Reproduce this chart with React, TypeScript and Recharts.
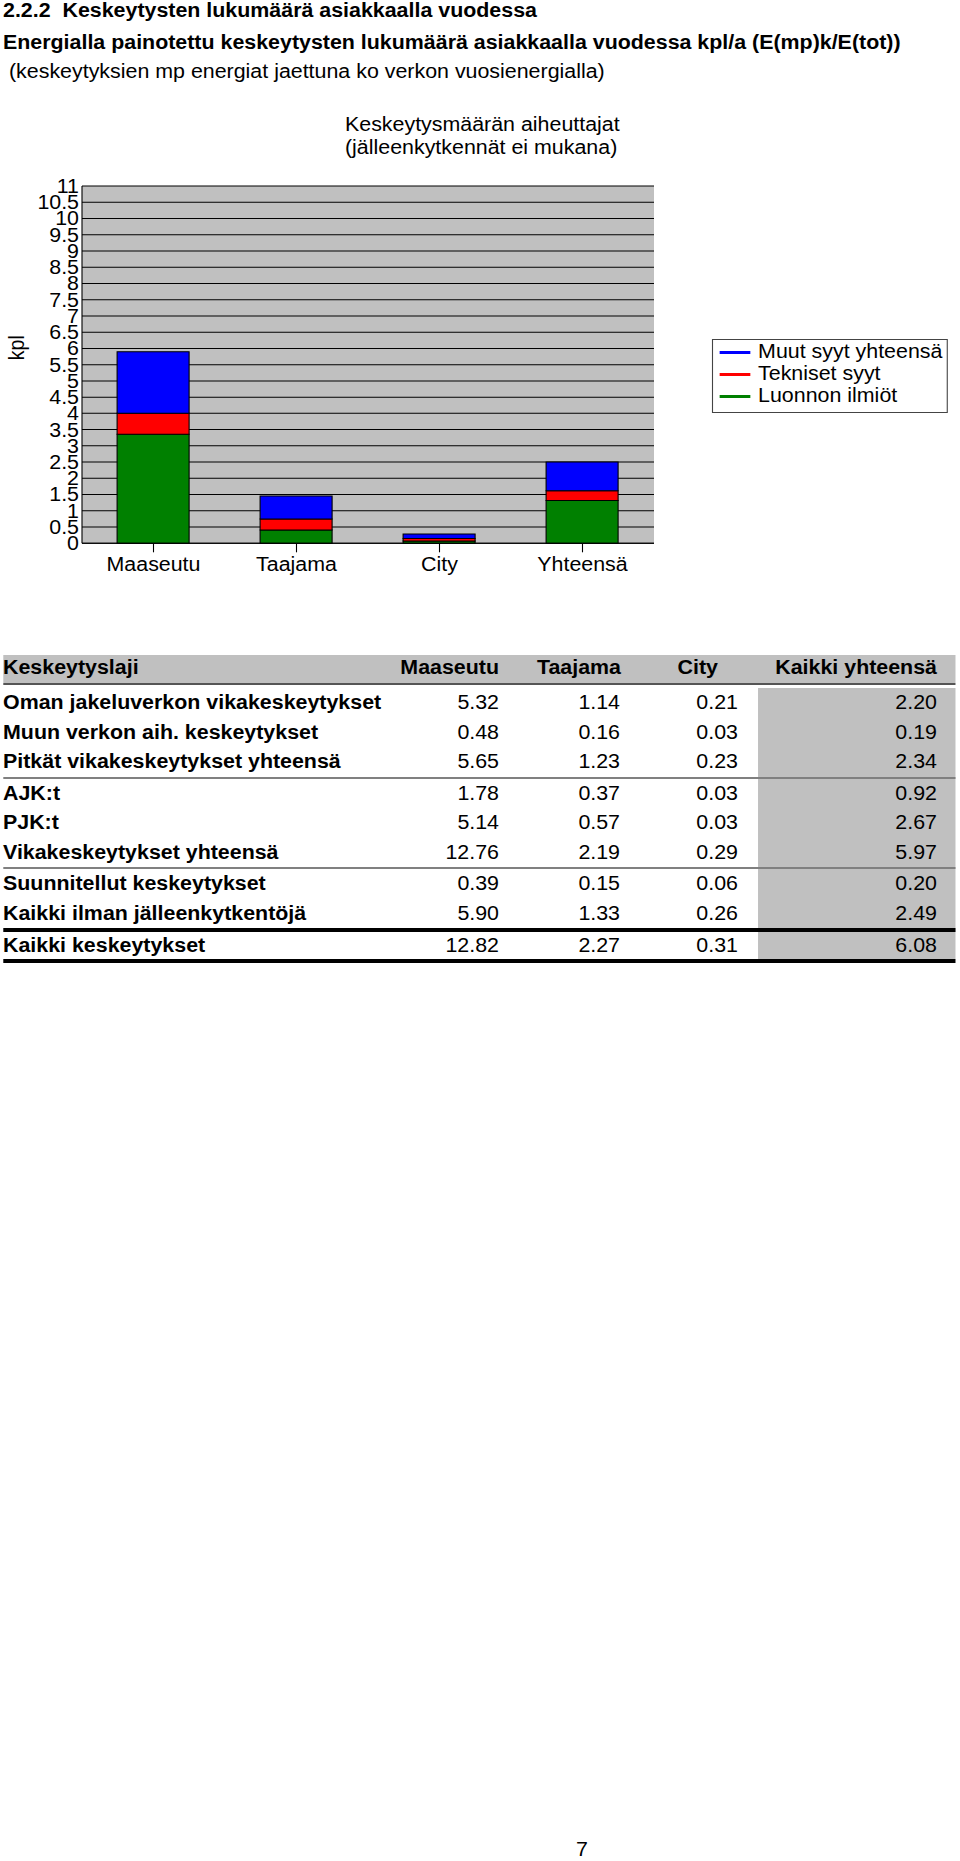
import React from "react";
import { BarChart, Bar, XAxis, YAxis, CartesianGrid, Legend } from "recharts";

// the scanned page is a bit stretched sideways, so everything sits in a scaleX wrapper
const S = 1.097;
const FS = 19.5;
const CAP = 0.716 * FS;
const FONT = '"Liberation Sans", Arial, Helvetica, sans-serif';
const ix = (x: number) => x / S;

// chart data
const categories = ["Maaseutu", "Taajama", "City", "Yhteensä"];
const luonnonIlmiot = [3.36, 0.41, 0.07, 1.32];
const teknisetSyyt = [0.64, 0.34, 0.08, 0.3];
const muutSyyt = [1.9, 0.71, 0.14, 0.88];
const yTicks = [0, 0.5, 1, 1.5, 2, 2.5, 3, 3.5, 4, 4.5, 5, 5.5, 6, 6.5, 7, 7.5, 8, 8.5, 9, 9.5, 10, 10.5, 11];

const seriesNames = ["Muut syyt yhteensä", "Tekniset syyt", "Luonnon ilmiöt"];
const seriesColors = ["#0000ff", "#ff0000", "#008000"];

// table data
const tableHeaders = ["Keskeytyslaji", "Maaseutu", "Taajama", "City", "Kaikki yhteensä"];
const rowLabels = [
  "Oman jakeluverkon vikakeskeytykset",
  "Muun verkon aih. keskeytykset",
  "Pitkät vikakeskeytykset yhteensä",
  "AJK:t",
  "PJK:t",
  "Vikakeskeytykset yhteensä",
  "Suunnitellut keskeytykset",
  "Kaikki ilman jälleenkytkentöjä",
  "Kaikki keskeytykset",
];
const maaseutuValues = ["5.32", "0.48", "5.65", "1.78", "5.14", "12.76", "0.39", "5.90", "12.82"];
const taajamaValues = ["1.14", "0.16", "1.23", "0.37", "0.57", "2.19", "0.15", "1.33", "2.27"];
const cityValues = ["0.21", "0.03", "0.23", "0.03", "0.03", "0.29", "0.06", "0.26", "0.31"];
const kaikkiValues = ["2.20", "0.19", "2.34", "0.92", "2.67", "5.97", "0.20", "2.49", "6.08"];

const chartData = categories.map((name, i) => ({
  name,
  luonnon: luonnonIlmiot[i],
  tekniset: teknisetSyyt[i],
  muut: muutSyyt[i],
}));

type TxtProps = {
  x: number;
  base: number;
  anchor?: "start" | "end" | "middle";
  bold?: boolean;
  size?: number;
  children: React.ReactNode;
};

// x is in page pixels, base is the baseline y
function Txt({ x, base, anchor = "start", bold = false, size = FS, children }: TxtProps) {
  const w = 700;
  const left = anchor === "start" ? ix(x) : anchor === "end" ? ix(x) - w : ix(x) - w / 2;
  return (
    <div
      style={{
        position: "absolute",
        left,
        top: base - 0.8465 * size,
        width: w,
        fontSize: size,
        lineHeight: size + "px",
        fontWeight: bold ? 700 : 400,
        textAlign: anchor === "start" ? "left" : anchor === "end" ? "right" : "center",
        whiteSpace: "nowrap",
      }}
    >
      {children}
    </div>
  );
}

function Box({ x1, x2, y1, y2, color }: { x1: number; x2: number; y1: number; y2: number; color: string }) {
  return <div style={{ position: "absolute", left: ix(x1), width: ix(x2 - x1), top: y1, height: y2 - y1, background: color }} />;
}

const CHART_TOP = 100;
const PLOT = { left: 82, right: 654, top: 186, bottom: 543.3 };

function LegendBox() {
  const rows = [352, 374, 396];
  return (
    <div style={{ position: "relative", width: "100%", height: "100%" }}>
      {seriesNames.map((n, i) => (
        <React.Fragment key={n}>
          <div
            style={{
              position: "absolute",
              left: ix(6),
              width: ix(31),
              top: rows[i] - 339 - 2.5,
              height: 3,
              background: seriesColors[i],
            }}
          />
          <div
            style={{
              position: "absolute",
              left: ix(45),
              top: rows[i] - 339 + CAP / 2 - 0.8465 * FS - 1,
              fontSize: FS,
              lineHeight: FS + "px",
              whiteSpace: "nowrap",
              color: "#000",
            }}
          >
            {n}
          </div>
        </React.Fragment>
      ))}
    </div>
  );
}

// table layout
const T_LEFT = 3;
const T_RIGHT = 955;
const colRight = [499, 620, 738, 937];
const headRight = [499, 621, 718, 937];
const rowHeights = [29.5, 29.5, 29.5, 29.5, 29.5, 29.5, 29.5, 29.5, 27];
const rowLines: Record<number, { h: number; color: string }> = {
  2: { h: 2, color: "#808080" },
  5: { h: 2, color: "#808080" },
  7: { h: 4, color: "#000" },
  8: { h: 4, color: "#000" },
};

function Table() {
  const els: React.ReactNode[] = [];
  // header
  els.push(<Box key="hb" x1={T_LEFT} x2={T_RIGHT} y1={655} y2={683} color="#c0c0c0" />);
  els.push(<Box key="hl" x1={T_LEFT} x2={T_RIGHT} y1={683} y2={685} color="#555" />);
  els.push(
    <Txt key="h0" x={T_LEFT} base={675} bold>
      {tableHeaders[0]}
    </Txt>
  );
  for (let c = 1; c < tableHeaders.length; c++) {
    els.push(
      <Txt key={"h" + c} x={headRight[c - 1]} base={675} bold anchor="end">
        {tableHeaders[c]}
      </Txt>
    );
  }
  let y = 688;
  const start = y;
  const rowsOut: React.ReactNode[] = [];
  const lines: React.ReactNode[] = [];
  let grayEnd = y;
  rowLabels.forEach((label, i) => {
    const h = rowHeights[i];
    const base = y + h / 2 + CAP / 2;
    rowsOut.push(
      <Txt key={"l" + i} x={T_LEFT} base={base} bold>
        {label}
      </Txt>
    );
    [maaseutuValues, taajamaValues, cityValues, kaikkiValues].forEach((vals, c) => {
      rowsOut.push(
        <Txt key={"v" + i + "_" + c} x={colRight[c]} base={base} anchor="end">
          {vals[i]}
        </Txt>
      );
    });
    y += h;
    grayEnd = y;
    const ln = rowLines[i];
    if (ln) {
      lines.push(<Box key={"ln" + i} x1={T_LEFT} x2={T_RIGHT} y1={y} y2={y + ln.h} color={ln.color} />);
      y += ln.h;
    }
  });
  els.push(<Box key="gc" x1={758} x2={T_RIGHT} y1={start} y2={grayEnd} color="#c0c0c0" />);
  return (
    <>
      {els}
      {lines}
      {rowsOut}
    </>
  );
}

export default function App() {
  const axisTick = { fill: "#000", fontSize: FS, fontFamily: FONT };
  return (
    <div
      style={{
        position: "absolute",
        left: 0,
        top: 0,
        width: ix(960),
        height: 1861,
        transform: `scaleX(${S})`,
        transformOrigin: "0 0",
        fontFamily: FONT,
        color: "#000",
        background: "#fff",
        overflow: "hidden",
      }}
    >
      <Txt x={3} base={17.5} bold>
        2.2.2&nbsp; Keskeytysten lukumäärä asiakkaalla vuodessa
      </Txt>
      <Txt x={3} base={49.5} bold>
        Energialla painotettu keskeytysten lukumäärä asiakkaalla vuodessa kpl/a (E(mp)k/E(tot))
      </Txt>
      <Txt x={9} base={79}>
        (keskeytyksien mp energiat jaettuna ko verkon vuosienergialla)
      </Txt>

      <Txt x={345} base={132}>
        Keskeytysmäärän aiheuttajat
      </Txt>
      <Txt x={345} base={155}>
        (jälleenkytkennät ei mukana)
      </Txt>

      <div
        style={{
          position: "absolute",
          left: ix(17) - 30,
          top: 348 - FS / 2,
          width: 60,
          height: FS,
          lineHeight: FS + "px",
          fontSize: FS,
          textAlign: "center",
          transform: "rotate(-90deg)",
        }}
      >
        kpl
      </div>

      <div style={{ position: "absolute", left: 0, top: CHART_TOP }}>
        <BarChart
          width={ix(960)}
          height={500}
          data={chartData}
          margin={{ top: PLOT.top - CHART_TOP, right: ix(960 - PLOT.right), bottom: 0, left: 0 }}
          barSize={ix(72)}
        >
          <CartesianGrid vertical={false} stroke="#000" fill="#c0c0c0" fillOpacity={1} />
          <XAxis
            dataKey="name"
            height={CHART_TOP + 500 - PLOT.bottom}
            interval={0}
            axisLine={{ stroke: "#000" }}
            tickLine={{ stroke: "#000" }}
            tickSize={9}
            tickMargin={4.5}
            tick={axisTick}
          />
          <YAxis
            domain={[0, 11]}
            ticks={yTicks}
            interval={0}
            width={ix(PLOT.left)}
            tickSize={0}
            tickMargin={ix(3)}
            tickLine={false}
            axisLine={{ stroke: "#000" }}
            tick={axisTick}
            tickFormatter={(v: number) => String(v)}
          />
          <YAxis
            yAxisId="edge"
            orientation="right"
            domain={[0, 11]}
            width={0}
            tick={false}
            tickLine={false}
            axisLine={{ stroke: "#000" }}
          />
          <Legend
            layout="horizontal"
            verticalAlign="middle"
            align="center"
            wrapperStyle={{
              left: ix(712),
              top: 339 - CHART_TOP,
              width: ix(948 - 712),
              height: 74,
              border: "1px solid #444",
              boxSizing: "border-box",
              background: "#fff",
            }}
            content={() => <LegendBox />}
          />
          <Bar dataKey="luonnon" stackId="a" fill="#008000" stroke="#000" strokeWidth={1} isAnimationActive={false} />
          <Bar dataKey="tekniset" stackId="a" fill="#ff0000" stroke="#000" strokeWidth={1} isAnimationActive={false} />
          <Bar dataKey="muut" stackId="a" fill="#0000ff" stroke="#000" strokeWidth={1} isAnimationActive={false} />
        </BarChart>
      </div>

      <Table />

      <Txt x={582} base={1857} anchor="middle">
        7
      </Txt>
    </div>
  );
}
